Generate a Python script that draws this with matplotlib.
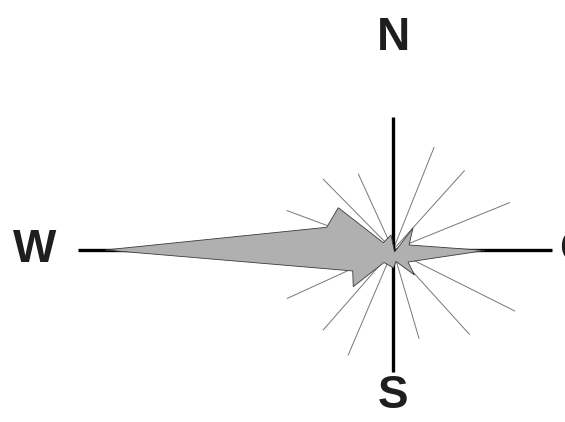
import numpy as np
import matplotlib
matplotlib.use('Agg')
import matplotlib.pyplot as plt

# ============ DATA ============
# star outline: direction (deg, clockwise from north) and radius
star_dir = [270.0, 288.9, 307.7, 307.0, 352.4, 143.0, 42.3, 72.6, 90.3,
            128.7, 139.3, 165.4, 178.4, 215.8, 227.3, 242.5]
star_len = [288.0, 70.1, 69.1, 12.1, 15.1, 2.5, 29.7, 16.8, 92.0,
            19.2, 33.0, 11.9, 18.0, 15.4, 54.1, 45.4]

# thin rays
ray_dir = [21.8, 42.0, 67.9, 116.6, 137.8, 163.6,
           203.1, 221.1, 245.4, 290.4, 315.4, 335.5]
ray_len = [110.6, 106.6, 125.6, 136.1, 113.7, 92.0,
           114.1, 106.1, 116.2, 112.8, 99.3, 83.5]

# compass arms and labels
arm_labels = ['N', 'O', 'S', 'W']
arm_dir = [0.0, 90.0, 180.0, 270.0]
arm_len = [133.0, 159.0, 122.0, 314.7]
label_r = [212.0, 166.0, 146.5, 358.0]

# ============ PLOTTING ============
W, H = 565, 422
CX, CY = 393, 250
RMAX = 330

fig = plt.figure(figsize=(W / 100, H / 100), dpi=100)
ax = fig.add_axes([(CX - RMAX) / W, (H - CY - RMAX) / H,
                   2 * RMAX / W, 2 * RMAX / H], projection='polar')
ax.set_theta_zero_location('N')
ax.set_theta_direction(-1)

for d, L in zip(ray_dir, ray_len):
    ax.plot([np.radians(d)] * 2, [0, L], color='#777777', lw=0.7, zorder=1)

for d, L in zip(arm_dir, arm_len):
    ax.plot([np.radians(d)] * 2, [0, L], color='black', lw=2.4,
            solid_capstyle='butt', zorder=2)

ax.fill(np.radians(star_dir), star_len, facecolor='#b0b0b0',
        edgecolor='#3a3a3a', lw=0.6, zorder=3)

for lab, d, r in zip(arm_labels, arm_dir, label_r):
    ha = 'left' if lab == 'O' else 'center'
    ax.text(np.radians(d), r, lab, ha=ha, va='center', fontsize=33,
            fontweight='bold', family='Liberation Sans', color='#1e1e1e')

ax.set_ylim(0, RMAX)
ax.axis('off')

fig.savefig('out.png', dpi=100)
